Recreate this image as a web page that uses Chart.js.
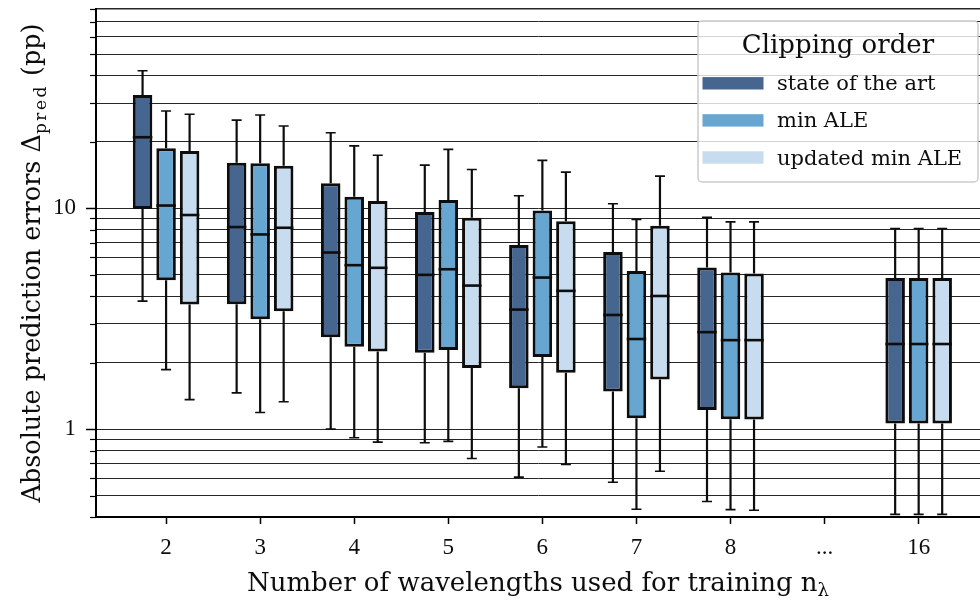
<!DOCTYPE html>
<html>
<head>
<meta charset="utf-8">
<title>Absolute prediction errors by number of wavelengths</title>
<script src="https://cdn.jsdelivr.net/npm/chart.js@4.4.1/dist/chart.umd.min.js"></script>
<style>
  html, body { margin: 0; padding: 0; background: #ffffff; overflow: hidden; }
  canvas { display: block; }
</style>
</head>
<body>
<canvas id="chart" width="980" height="601"></canvas>
<script>
// Number of wavelengths used for training (x categories)
const nLambda = ['2', '3', '4', '5', '6', '7', '8', '...', '16'];
const seriesNames = ['state of the art', 'min ALE', 'updated min ALE'];
const seriesColors = ['#46658f', '#68a6d2', '#c7dcee'];

// Box statistics per category: whisker low, Q1, median, Q3, whisker high (pp)
const sotaLow  = [3.80, 1.46, 1.00, 0.868, 0.606, 0.575, 0.470, null, 0.411];
const sotaQ1   = [9.93, 3.68, 2.61, 2.22,  1.53,  1.48,  1.22,  null, 1.06];
const sotaMed  = [21.0, 8.23, 6.31, 5.00,  3.48,  3.29,  2.75,  null, 2.43];
const sotaQ3   = [32.6, 16.1, 13.0, 9.62,  6.82,  6.34,  5.40,  null, 4.84];
const sotaHigh = [42.0, 25.1, 22.0, 15.7,  11.4,  10.5,  9.10,  null, 8.11];

const aleLow  = [1.86, 1.19, 0.914, 0.88, 0.83, 0.434, 0.432, null, 0.411];
const aleQ1   = [4.73, 3.15, 2.36,  2.28, 2.12, 1.12,  1.11,  null, 1.06];
const aleMed  = [10.3, 7.62, 5.53,  5.30, 4.86, 2.56,  2.53,  null, 2.43];
const aleQ3   = [18.7, 16.0, 11.3,  10.9, 9.79, 5.21,  5.12,  null, 4.84];
const aleHigh = [27.6, 26.5, 19.2,  18.5, 16.5, 8.91,  8.69,  null, 8.11];

const updLow  = [1.36, 1.33, 0.873, 0.736, 0.692, 0.645, 0.429, null, 0.411];
const updQ1   = [3.67, 3.42, 2.25,  1.89,  1.80,  1.68,  1.106, null, 1.06];
const updMed  = [9.33, 8.17, 5.38,  4.47,  4.23,  4.01,  2.53,  null, 2.43];
const updQ3   = [18.2, 15.6, 10.8,  9.06,  8.75,  8.34,  5.07,  null, 4.84];
const updHigh = [26.7, 23.6, 17.4,  15.0,  14.6,  14.0,  8.69,  null, 8.11];

// Y axis range and gridline positions (log decades 0.1 .. 10, steps 1..9)
const yMin = 0.4, yMax = 80;
const yTickValues = [];
for (const decade of [0.1, 1, 10]) {
  for (let k = 1; k <= 9; k++) {
    const v = +(k * decade).toPrecision(3);
    if (v >= yMin && v <= yMax) yTickValues.push(v);
  }
}
const yLabelled = [1, 10];

const TEXT_FONT = "'DejaVu Serif', serif";
const TICK_FONT = "'Liberation Serif', serif";
const INK = '#0d0d0d';

// Each box is a floating bar from Q1 to Q3; the other statistics ride along on the point
function boxes(low, q1, med, q3, high) {
  const pts = [];
  nLambda.forEach((_, i) => {
    if (q1[i] == null) return;
    pts.push({ x: i, y: [q1[i], q3[i]], low: low[i], med: med[i], high: high[i] });
  });
  return pts;
}

const datasets = [
  { label: seriesNames[0], backgroundColor: seriesColors[0], data: boxes(sotaLow, sotaQ1, sotaMed, sotaQ3, sotaHigh) },
  { label: seriesNames[1], backgroundColor: seriesColors[1], data: boxes(aleLow, aleQ1, aleMed, aleQ3, aleHigh) },
  { label: seriesNames[2], backgroundColor: seriesColors[2], data: boxes(updLow, updQ1, updMed, updQ3, updHigh) }
];

// Whiskers, caps and medians drawn around the floating bars
const boxWhiskers = {
  id: 'boxWhiskers',
  beforeDatasetsDraw(chart) {
    const ctx = chart.ctx, y = chart.scales.y;
    ctx.save();
    ctx.strokeStyle = INK;
    chart.data.datasets.forEach((ds, di) => {
      const meta = chart.getDatasetMeta(di);
      meta.data.forEach((el, j) => {
        const p = ds.data[j];
        const yLow = y.getPixelForValue(p.low), yHigh = y.getPixelForValue(p.high);
        const yQ1 = y.getPixelForValue(p.y[0]), yQ3 = y.getPixelForValue(p.y[1]);
        ctx.lineWidth = 2.2;
        ctx.beginPath();
        ctx.moveTo(el.x, yQ3); ctx.lineTo(el.x, yHigh);
        ctx.moveTo(el.x, yQ1); ctx.lineTo(el.x, yLow);
        ctx.stroke();
        ctx.lineWidth = 1.6;
        ctx.beginPath();
        ctx.moveTo(el.x - 5, yHigh); ctx.lineTo(el.x + 5, yHigh);
        ctx.moveTo(el.x - 5, yLow); ctx.lineTo(el.x + 5, yLow);
        ctx.stroke();
      });
    });
    ctx.restore();
  },
  afterDatasetsDraw(chart) {
    const ctx = chart.ctx, y = chart.scales.y;
    ctx.save();
    ctx.strokeStyle = INK;
    ctx.lineWidth = 2.6;
    chart.data.datasets.forEach((ds, di) => {
      const meta = chart.getDatasetMeta(di);
      meta.data.forEach((el, j) => {
        const ym = y.getPixelForValue(ds.data[j].med);
        ctx.beginPath();
        ctx.moveTo(el.x - el.width / 2, ym);
        ctx.lineTo(el.x + el.width / 2, ym);
        ctx.stroke();
      });
    });
    ctx.restore();
  }
};

// Short ticks for the unlabelled log gridlines
const minorTicks = {
  id: 'minorTicks',
  afterDraw(chart) {
    const ctx = chart.ctx, y = chart.scales.y, left = chart.chartArea.left;
    ctx.save();
    ctx.strokeStyle = '#000';
    ctx.lineWidth = 1.2;
    yTickValues.forEach(v => {
      if (yLabelled.includes(v)) return;
      const py = Math.round(y.getPixelForValue(v)) + 0.5;
      ctx.beginPath();
      ctx.moveTo(left - 6, py); ctx.lineTo(left, py);
      ctx.stroke();
    });
    ctx.restore();
  }
};

// Draw a run of text pieces (with optional subscript shift) centred on x = 0
function drawRuns(ctx, runs) {
  let total = 0;
  runs.forEach(r => {
    ctx.font = r.font;
    if (r.spacing) {
      r.w = 0;
      for (const ch of r.text) r.w += ctx.measureText(ch).width + r.spacing;
    } else {
      r.w = ctx.measureText(r.text).width;
    }
    total += r.w;
  });
  let x = -total / 2;
  runs.forEach(r => {
    ctx.font = r.font;
    if (r.spacing) {
      let cx = x;
      for (const ch of r.text) {
        ctx.fillText(ch, cx, r.dy || 0);
        cx += ctx.measureText(ch).width + r.spacing;
      }
    } else {
      ctx.fillText(r.text, x, r.dy || 0);
    }
    x += r.w;
  });
}

const axisTitles = {
  id: 'axisTitles',
  afterDraw(chart) {
    const ctx = chart.ctx, a = chart.chartArea;
    ctx.save();
    ctx.fillStyle = INK;
    ctx.textAlign = 'left';
    ctx.textBaseline = 'alphabetic';
    // x title
    ctx.save();
    ctx.translate((a.left + a.right) / 2, 591);
    drawRuns(ctx, [
      { text: 'Number of wavelengths used for training n', font: `26px ${TEXT_FONT}` },
      { text: 'λ', font: `18px ${TEXT_FONT}`, dy: 5 }
    ]);
    ctx.restore();
    // y title
    ctx.save();
    ctx.translate(40, (a.top + a.bottom) / 2);
    ctx.rotate(-Math.PI / 2);
    drawRuns(ctx, [
      { text: 'Absolute prediction errors Δ', font: `25.5px ${TEXT_FONT}` },
      { text: 'pred', font: `17px ${TEXT_FONT}`, dy: 6, spacing: 2.5 },
      { text: ' (pp)', font: `25.5px ${TEXT_FONT}` }
    ]);
    ctx.restore();
    ctx.restore();
  }
};

// Framed legend in the upper right of the plot
const boxLegend = {
  id: 'boxLegend',
  afterDraw(chart) {
    const ctx = chart.ctx;
    const x0 = 698, y0 = 21, w = 280, h = 161, r = 4;
    ctx.save();
    ctx.beginPath();
    ctx.moveTo(x0 + r, y0);
    ctx.arcTo(x0 + w, y0, x0 + w, y0 + h, r);
    ctx.arcTo(x0 + w, y0 + h, x0, y0 + h, r);
    ctx.arcTo(x0, y0 + h, x0, y0, r);
    ctx.arcTo(x0, y0, x0 + w, y0, r);
    ctx.closePath();
    ctx.fillStyle = 'rgba(255,255,255,0.8)';
    ctx.fill();
    ctx.strokeStyle = '#cccccc';
    ctx.lineWidth = 1.5;
    ctx.stroke();

    ctx.fillStyle = INK;
    ctx.textBaseline = 'alphabetic';
    ctx.textAlign = 'center';
    ctx.font = `26px ${TEXT_FONT}`;
    ctx.fillText('Clipping order', x0 + w / 2, 53);

    ctx.textAlign = 'left';
    ctx.font = `21px ${TEXT_FONT}`;
    chart.data.datasets.forEach((ds, i) => {
      const cy = 83.3 + i * 37.1;
      ctx.fillStyle = ds.backgroundColor;
      ctx.fillRect(702.5, cy - 6.2, 61, 12.4);
      ctx.fillStyle = INK;
      ctx.fillText(ds.label, 777, cy + 7);
    });
    ctx.restore();
  }
};

new Chart(document.getElementById('chart'), {
  type: 'bar',
  data: { datasets },
  options: {
    responsive: false,
    animation: false,
    devicePixelRatio: 1,
    layout: { padding: { top: 9, right: 0, bottom: 0, left: 0 } },
    plugins: { legend: { display: false }, tooltip: { enabled: false }, title: { display: false } },
    datasets: {
      bar: {
        grouped: true,
        categoryPercentage: 0.75,
        barPercentage: 0.83,
        borderWidth: 3,
        borderColor: INK,
        borderSkipped: false
      }
    },
    scales: {
      x: {
        type: 'linear',
        min: -0.745,
        max: 8.652,
        offset: false,
        afterBuildTicks: s => { s.ticks = nLambda.map((_, i) => ({ value: i })); },
        afterFit: s => { s.height = 84; s.paddingLeft = 0; s.paddingRight = 0; },
        grid: { display: true, drawOnChartArea: false, drawTicks: true, tickLength: 7, tickColor: '#000', tickWidth: 1.5, offset: false },
        border: { display: true, color: '#000', width: 2 },
        ticks: {
          autoSkip: false,
          maxRotation: 0,
          padding: 10,
          color: INK,
          font: { family: TICK_FONT, size: 23 },
          callback: v => nLambda[v]
        }
      },
      y: {
        type: 'logarithmic',
        min: yMin,
        max: yMax,
        afterBuildTicks: s => { s.ticks = yTickValues.map(v => ({ value: v })); },
        afterFit: s => { s.width = 96; s.paddingTop = 0; s.paddingBottom = 0; },
        grid: {
          color: '#262626',
          lineWidth: c => (c.tick && c.tick.value === yMax ? 1.6 : 1),
          drawTicks: true,
          tickLength: 10,
          tickWidth: 1.5,
          tickColor: c => (c.tick && yLabelled.includes(c.tick.value) ? '#000' : 'rgba(0,0,0,0)')
        },
        border: { display: true, color: '#000', width: 2 },
        ticks: {
          autoSkip: false,
          padding: 10,
          color: INK,
          font: { family: TICK_FONT, size: 23 },
          callback: v => (yLabelled.includes(v) ? String(v) : '')
        }
      }
    }
  },
  plugins: [boxWhiskers, minorTicks, axisTitles, boxLegend]
});
</script>
</body>
</html>
